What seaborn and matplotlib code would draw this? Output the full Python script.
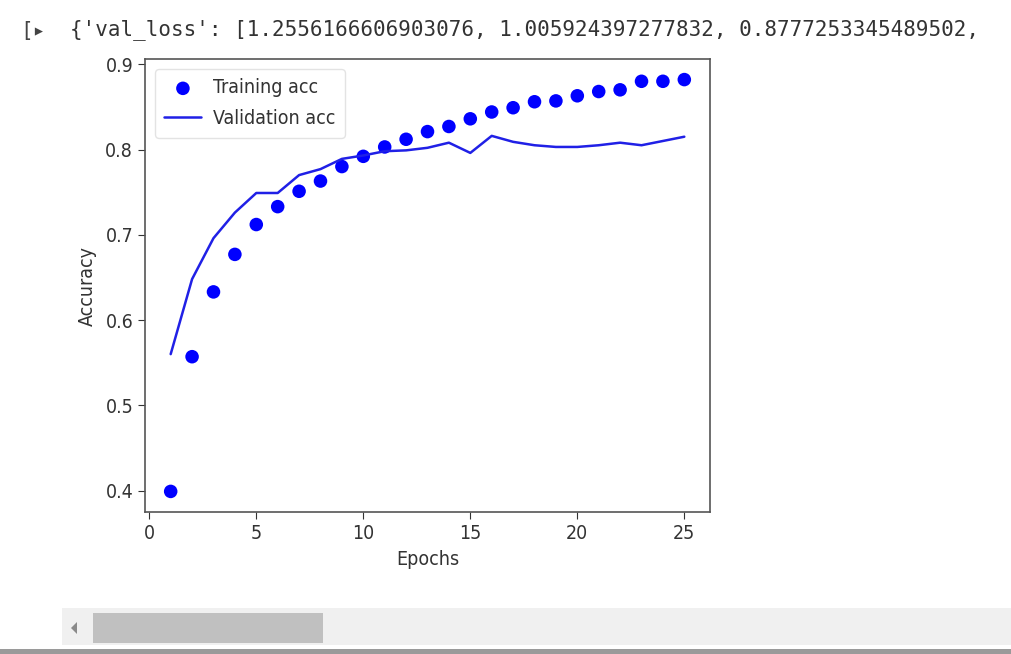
import matplotlib
matplotlib.use("Agg")
import matplotlib.pyplot as plt
import seaborn as sns
import pandas as pd
from matplotlib.patches import Rectangle, Polygon

epochs = list(range(1, 26))
train_acc = [0.399, 0.557, 0.633, 0.677, 0.712, 0.733, 0.751, 0.763, 0.780, 0.792,
             0.803, 0.812, 0.821, 0.827, 0.836, 0.844, 0.849, 0.856, 0.857, 0.863,
             0.868, 0.870, 0.880, 0.880, 0.882]
val_acc = [0.560, 0.648, 0.696, 0.726, 0.749, 0.749, 0.770, 0.777, 0.789, 0.793,
           0.798, 0.799, 0.802, 0.808, 0.796, 0.816, 0.809, 0.805, 0.803, 0.803,
           0.805, 0.808, 0.805, 0.810, 0.815]
header_text = "{'val_loss': [1.2556166606903076, 1.005924397277832, 0.8777253345489502,"

sns.set_style("ticks")
plt.rcParams['font.family'] = ['DejaVu Sans']
plt.rcParams['font.stretch'] = 'condensed'

df = pd.DataFrame({"Epochs": epochs, "train": train_acc, "val": val_acc})

fig = plt.figure(figsize=(10.12, 6.54), dpi=100)
ax = fig.add_axes([145 / 1012, 1 - 512 / 654, 565 / 1012, 453 / 654])

sns.scatterplot(data=df, x="Epochs", y="train", ax=ax, color="#0000ff", s=95,
                edgecolor="none", label="Training acc")
sns.lineplot(data=df, x="Epochs", y="val", ax=ax, color="#2020e6", linewidth=1.8,
             label="Validation acc")

ax.set_xlabel("Epochs", fontsize=14, color="#333333", labelpad=5)
ax.set_ylabel("Accuracy", fontsize=14, color="#333333", labelpad=6)
ax.set_xticks([0, 5, 10, 15, 20, 25])
ax.set_yticks([0.4, 0.5, 0.6, 0.7, 0.8, 0.9])
ax.tick_params(labelsize=14, colors="#333333", length=5)
for sp in ax.spines.values():
    sp.set_visible(True)
    sp.set_color("#555555")
    sp.set_linewidth(1.2)
leg = ax.legend(loc="upper left", fontsize=14, frameon=True, markerscale=1.0,
                handlelength=1.9, handletextpad=0.6, labelspacing=0.6,
                borderaxespad=0.5, borderpad=0.5)
leg.get_frame().set_edgecolor("#dddddd")
for t in leg.get_texts():
    t.set_color("#333333")

# notebook chrome
fig.text(0.069, 1 - 30 / 654, header_text, family="DejaVu Sans Mono", stretch="normal",
         fontsize=15.0, color="#333333", va="center", ha="left")
fig.text(0.020, 1 - 31 / 654, "[▸", fontsize=15, color="#444444", va="center", ha="left",
         family=["DejaVu Sans Mono", "DejaVu Sans"], stretch="normal")

fig.patches.append(Rectangle((62 / 1012, 1 - 645 / 654), 1 - 62 / 1012, 37 / 654,
                             transform=fig.transFigure, facecolor="#f0f0f0",
                             edgecolor="none"))
fig.patches.append(Rectangle((93 / 1012, 1 - 643 / 654), 230 / 1012, 30 / 654,
                             transform=fig.transFigure, facecolor="#c0c0c0",
                             edgecolor="none"))
fig.patches.append(Polygon([(71 / 1012, 1 - 628 / 654), (77 / 1012, 1 - 622 / 654),
                            (77 / 1012, 1 - 634 / 654)], closed=True,
                           transform=fig.transFigure, facecolor="#8a8a8a",
                           edgecolor="none"))
fig.patches.append(Rectangle((0, 0), 1, 5 / 654, transform=fig.transFigure,
                             facecolor="#9a9a9a", edgecolor="none"))

fig.savefig("out.png", dpi=100)
